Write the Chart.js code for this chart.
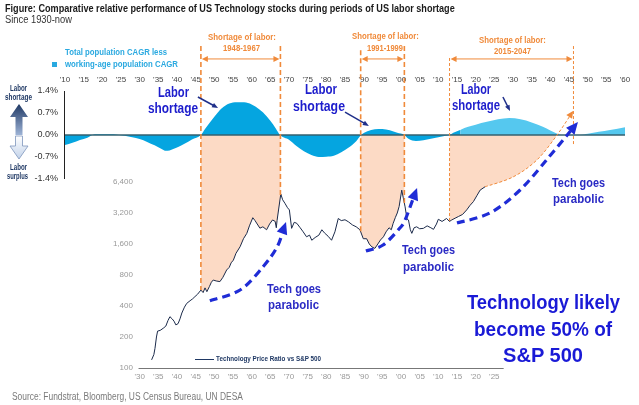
<!DOCTYPE html>
<html>
<head>
<meta charset="utf-8">
<script src="https://cdn.jsdelivr.net/npm/chart.js@4.4.1/dist/chart.umd.min.js"></script>
<style>
html,body{margin:0;padding:0;background:#fff;overflow:hidden;}
#wrap{position:relative;width:639px;height:405px;font-family:"Liberation Sans",Arial,Helvetica,sans-serif;}
#c{position:absolute;left:0;top:0;width:639px;height:405px;}
.t{position:absolute;white-space:nowrap;transform-origin:0 50%;line-height:1;}
</style>
</head>
<body>
<div id="wrap">
<canvas id="c" width="639" height="405"></canvas>
<svg style="position:absolute;left:8px;top:104px" width="22" height="56" viewBox="0 0 22 56">
  <defs>
    <linearGradient id="gu" x1="0" y1="0" x2="0" y2="1"><stop offset="0" stop-color="#1f3864"/><stop offset="1" stop-color="#9db3d6"/></linearGradient>
    <linearGradient id="gd" x1="0" y1="0" x2="0" y2="1"><stop offset="0" stop-color="#ffffff"/><stop offset="1" stop-color="#c3d3ea"/></linearGradient>
  </defs>
  <polygon points="11,0 20,13 14.5,13 14.5,31 7.5,31 7.5,13 2,13" fill="url(#gu)"/>
  <polygon points="7.5,32 14.5,32 14.5,42 20,42 11,55 2,42 7.5,42" fill="url(#gd)" stroke="#7d95bd" stroke-width="0.8"/>
</svg>
<div style="position:absolute;left:52px;top:62px;width:5px;height:5px;background:#29a9e0"></div>
<div style="position:absolute;left:195px;top:359px;width:19px;height:1px;background:#1f3864"></div>
</div>
<script>
// ---------------- DATA ----------------
// Total population CAGR less working-age population CAGR (%), historical
const popYears  = [1910,1912,1914,1916,1918,1920,1922,1924,1926,1928,1930,1932,1934,1936,1937,1938,1940,1942,1944,1946.4,1947.5,1950,1952,1954,1956,1958,1960,1962,1963,1965,1966.5,1967.6,1970,1972,1974,1976,1978,1980,1982,1984,1986,1988,1989.3,1991,1993,1995,1997,1999,2000.9,2002,2004,2006,2008,2010,2012,2013,2014,2016];
const popValues = [-0.32,-0.25,-0.16,-0.09,0.02,0.02,0.02,0.01,-0.02,-0.07,-0.13,-0.22,-0.33,-0.45,-0.5,-0.49,-0.4,-0.28,-0.14,0,0.19,0.58,0.85,1.0,1.04,1.04,0.97,0.82,0.72,0.45,0.2,0,-0.15,-0.35,-0.52,-0.64,-0.7,-0.69,-0.66,-0.55,-0.4,-0.2,0,0.12,0.18,0.19,0.15,0.07,0,-0.12,-0.19,-0.17,-0.12,-0.07,-0.02,0,0.07,0.17];
// projection
const projYears  = [2016,2018,2020,2023,2026,2029,2032,2035,2038,2040,2042,2043,2046,2048,2050,2053,2056,2060];
const projValues = [0.17,0.26,0.33,0.42,0.5,0.54,0.5,0.4,0.26,0.14,0.03,0,0,0,0.04,0.1,0.16,0.25];
// Technology price ratio vs S&P 500
const techYears  = [1933.2,1933.8,1934.1,1934.5,1934.8,1935.5,1936.3,1937.0,1937.6,1938.1,1938.7,1939.2,1939.7,1940.3,1940.8,1941.3,1942.0,1942.6,1943.5,1944.2,1944.8,1945.5,1946.4,1947.0,1947.5,1948.0,1948.7,1949.2,1949.7,1950.5,1951.5,1952.3,1953.3,1954.0,1954.5,1955.1,1955.8,1956.9,1957.8,1958.7,1959.4,1960.3,1960.9,1962.2,1963.0,1964.0,1964.8,1965.6,1966.3,1966.6,1966.8,1967.8,1968.3,1968.9,1969.6,1970.1,1970.7,1971.4,1972.1,1973.0,1973.8,1974.7,1975.5,1976.1,1977.0,1978.0,1978.8,1979.5,1980.5,1981.4,1982.3,1983.2,1984.0,1985.0,1985.9,1987.0,1988.0,1989.0,1989.9,1990.8,1991.5,1992.2,1993.0,1993.8,1994.5,1995.3,1996.0,1996.8,1997.4,1997.9,1998.5,1999.0,1999.5,2000.2,2000.6,2001.1,2001.6,2002.0,2002.5,2002.9,2003.5,2004.2,2005.0,2006.0,2007.0,2008.0,2008.7,2009.5,2010.0,2011.0,2012.2,2013.0,2013.6,2014.5,2015.4,2016.5,2017.6,2018.5,2019.4,2020.3,2021.2,2022.5];
const techValues = [120,135,155,200,228,232,243,255,290,315,300,285,262,270,300,342,390,424,450,470,493,520,571,540,600,551,620,680,715,700,690,760,895,950,1050,1115,1300,1505,1800,2030,2400,2880,2700,2280,2350,2200,2500,2740,2650,2300,2700,4900,4300,3980,3600,3430,2270,2600,2540,2300,2100,1880,1950,1740,1850,1950,2200,2050,1900,1740,2100,2830,2700,2750,2630,2450,2350,2200,1800,1800,1600,1500,1450,1600,1750,1880,2100,2300,2200,2540,2900,3200,3700,5340,4500,3670,2800,2740,2200,2030,2300,2350,2250,2270,2400,2300,2220,2500,2780,2650,2830,2650,2740,2850,2960,3100,3430,3800,4130,4700,5340,5750];
// tick labels
const topTickYears    = [1910,1915,1920,1925,1930,1935,1940,1945,1950,1955,1960,1965,1970,1975,1980,1985,1990,1995,2000,2005,2010,2015,2020,2025,2030,2035,2040,2045,2050,2055,2060];
const bottomTickYears = [1930,1935,1940,1945,1950,1955,1960,1965,1970,1975,1980,1985,1990,1995,2000,2005,2010,2015,2020,2025];
const pctTicks = [-1.4,-0.7,0,0.7,1.4];
const logTicks = [100,200,400,800,1600,3200,6400];
// labor-shortage periods
const periodLabels = ['1948-1967','1991-1999','2015-2047'];
const periodStart  = [1946.4,1989.2,2013.0];
const periodEnd    = [1967.7,2000.9,2046.2];
// projected path (orange dotted)
const projPathYears  = [2022.5,2030,2036.4,2041.8,2046.1];
const projPathValues = [5750,7160,10470,18300,31300];
// "Tech goes parabolic" arrows (year, ratio)
const arrow1Years=[1948.8,1956.9,1963.0,1966.8,1969.2], arrow1Values=[450,572,957,1496,2616];
const arrow2Years=[1990.6,1995.2,1999.7,2001.1,2004.3], arrow2Values=[1368,1565,2288,2736,5596];
const arrow3Years=[2015.0,2023.8,2031.9,2039.4,2047.4], arrow3Values=[2559,3200,5352,10940,24480];
// "Labor shortage" pointer arrows (year, pct)
const pointerFromYears=[1945.6,1985.0,2027.3], pointerFromPct=[1.21,0.73,1.21];
const pointerToYears  =[1951.0,1991.4,2029.2], pointerToPct  =[0.86,0.29,0.76];

// ---------------- STYLE ----------------
const SHADE='#fcdac5', ORANGE='#f08a3a', BLUE='#1f2cd6', NAVY='#1f2f8a';

function techAt(yr){
  if (yr<=techYears[0]) return techValues[0];
  for (let i=1;i<techYears.length;i++){
    if (yr<=techYears[i]){
      const t=(yr-techYears[i-1])/(techYears[i]-techYears[i-1]);
      return Math.exp(Math.log(techValues[i-1])*(1-t)+Math.log(techValues[i])*t);
    }
  }
  return techValues[techValues.length-1];
}
function techPixels(chart,a,b){
  const {x,yl}=chart.scales;
  const pts=[[x.getPixelForValue(a),yl.getPixelForValue(techAt(a))]];
  techYears.forEach((yr,i)=>{ if(yr>a&&yr<b) pts.push([x.getPixelForValue(yr),yl.getPixelForValue(techValues[i])]); });
  pts.push([x.getPixelForValue(b),yl.getPixelForValue(techAt(b))]);
  return pts;
}
function smooth(ctx,pts,move){
  if(move) ctx.moveTo(pts[0][0],pts[0][1]); else ctx.lineTo(pts[0][0],pts[0][1]);
  let last=pts[0];
  for(let i=0;i<pts.length-1;i++){
    const p0=pts[i-1]||pts[i],p1=pts[i],p2=pts[i+1],p3=pts[i+2]||p2;
    const c1=[p1[0]+(p2[0]-p0[0])/6,p1[1]+(p2[1]-p0[1])/6];
    const c2=[p2[0]-(p3[0]-p1[0])/6,p2[1]-(p3[1]-p1[1])/6];
    ctx.bezierCurveTo(c1[0],c1[1],c2[0],c2[1],p2[0],p2[1]);
    last=c2;
  }
  return last;
}
function head(ctx,tip,from,len,wid,color){
  const a=Math.atan2(tip[1]-from[1],tip[0]-from[0]);
  const bx=tip[0]-len*Math.cos(a), by=tip[1]-len*Math.sin(a);
  ctx.save();ctx.setLineDash([]);ctx.fillStyle=color;ctx.beginPath();
  ctx.moveTo(tip[0],tip[1]);
  ctx.lineTo(bx+wid/2*Math.sin(a),by-wid/2*Math.cos(a));
  ctx.lineTo(bx-wid/2*Math.sin(a),by+wid/2*Math.cos(a));
  ctx.closePath();ctx.fill();ctx.restore();
}

const deco={
  id:'deco',
  beforeDatasetsDraw(chart){
    const {ctx,chartArea,scales:{x,yp,yl}}=chart;
    const y0=yp.getPixelForValue(0);
    ctx.save();ctx.fillStyle=SHADE;
    for(let i=0;i<2;i++){
      const pts=techPixels(chart,periodStart[i],periodEnd[i]);
      ctx.beginPath();ctx.moveTo(pts[0][0],y0);ctx.lineTo(pts[pts.length-1][0],y0);
      for(let k=pts.length-1;k>=0;k--) ctx.lineTo(pts[k][0],pts[k][1]);
      ctx.closePath();ctx.fill();
    }
    const tEnd=techYears[techYears.length-1];
    const tp=techPixels(chart,periodStart[2],tEnd);
    const pp=projPathYears.map((yr,i)=>[x.getPixelForValue(yr),yl.getPixelForValue(projPathValues[i])]);
    ctx.save();ctx.beginPath();ctx.rect(chartArea.left,y0,chartArea.width,chartArea.bottom-y0);ctx.clip();
    ctx.beginPath();ctx.moveTo(tp[0][0],y0-80);ctx.lineTo(pp[pp.length-1][0],y0-80);
    smooth(ctx,pp.slice().reverse(),false);
    for(let k=tp.length-1;k>=0;k--) ctx.lineTo(tp[k][0],tp[k][1]);
    ctx.closePath();ctx.fill();ctx.restore();
    ctx.restore();
  },
  afterDatasetsDraw(chart){
    const {ctx,scales:{x,yp,yl}}=chart;
    ctx.save();
    // pct axis line
    ctx.strokeStyle='#222';ctx.lineWidth=1;ctx.beginPath();
    ctx.moveTo(x.left-0.5,yp.getPixelForValue(1.4));ctx.lineTo(x.left-0.5,yp.getPixelForValue(-1.4));ctx.stroke();
    // bottom axis line
    ctx.strokeStyle='#777';ctx.beginPath();
    const yb=Math.round(yl.getPixelForValue(100))+0.5;
    ctx.moveTo(x.getPixelForValue(1929.7),yb);ctx.lineTo(x.getPixelForValue(2027.5),yb);ctx.stroke();
    // vertical dashed lines
    const tops=[2.83,2.83,2.7,2.83,2.45,2.83];
    const yrs=[periodStart[0],periodEnd[0],periodStart[1],periodEnd[1],periodStart[2],periodEnd[2]];
    yrs.forEach((yr,i)=>{
      const px=x.getPixelForValue(yr);
      let bottom = yr<=techYears[techYears.length-1] ? yl.getPixelForValue(techAt(yr)) : yp.getPixelForValue(0)+10;
      ctx.strokeStyle=ORANGE;ctx.lineWidth=i<4?1.6:1;ctx.setLineDash(i<4?[5,3]:[3,2]);
      ctx.beginPath();ctx.moveTo(px,yp.getPixelForValue(tops[i]));ctx.lineTo(px,bottom);ctx.stroke();
    });
    ctx.setLineDash([]);
    // horizontal double arrows
    for(let i=0;i<3;i++){
      const ya=yp.getPixelForValue(2.42);
      const a=x.getPixelForValue(periodStart[i])+1,b=x.getPixelForValue(periodEnd[i])-1;
      ctx.strokeStyle=ORANGE;ctx.lineWidth=1;ctx.beginPath();ctx.moveTo(a+3,ya);ctx.lineTo(b-3,ya);ctx.stroke();
      head(ctx,[a,ya],[a+10,ya],6,6,ORANGE);head(ctx,[b,ya],[b-10,ya],6,6,ORANGE);
    }
    // orange projection dotted path
    const pp=projPathYears.map((yr,i)=>[x.getPixelForValue(yr),yl.getPixelForValue(projPathValues[i])]);
    ctx.strokeStyle=ORANGE;ctx.lineWidth=1;ctx.setLineDash([3,2]);ctx.beginPath();
    let c=smooth(ctx,pp,true);ctx.stroke();ctx.setLineDash([]);
    head(ctx,pp[pp.length-1],c,7,7,ORANGE);
    // blue dashed arrows
    [[arrow1Years,arrow1Values],[arrow2Years,arrow2Values],[arrow3Years,arrow3Values]].forEach(([ys,vs])=>{
      const pts=ys.map((yr,i)=>[x.getPixelForValue(yr),yl.getPixelForValue(vs[i])]);
      const tip=pts[pts.length-1];
      ctx.strokeStyle=BLUE;ctx.lineWidth=3.2;ctx.setLineDash([8,5]);ctx.lineCap='butt';ctx.beginPath();
      smooth(ctx,pts.slice(0,-1).concat([[tip[0]-(tip[0]-pts[pts.length-2][0])*0.25,tip[1]-(tip[1]-pts[pts.length-2][1])*0.25]]),true);
      ctx.stroke();ctx.setLineDash([]);
      head(ctx,tip,pts[pts.length-2],12,11,BLUE);
    });
    // labor shortage pointers
    for(let i=0;i<3;i++){
      const f=[x.getPixelForValue(pointerFromYears[i]),yp.getPixelForValue(pointerFromPct[i])];
      const t=[x.getPixelForValue(pointerToYears[i]),yp.getPixelForValue(pointerToPct[i])];
      ctx.strokeStyle=NAVY;ctx.lineWidth=1.5;ctx.beginPath();ctx.moveTo(f[0],f[1]);ctx.lineTo(t[0]-(t[0]-f[0])*0.2,t[1]-(t[1]-f[1])*0.2);ctx.stroke();
      head(ctx,t,f,6,5,NAVY);
    }
    ctx.restore();
  }
};

const yy=v=>"'"+String(Math.round(v)%100).padStart(2,'0');
Chart.defaults.font.family='"Liberation Sans", Arial, sans-serif';

new Chart(document.getElementById('c'),{
  type:'line',
  data:{datasets:[
    {label:'zero',data:[{x:topTickYears[0],y:0},{x:topTickYears[topTickYears.length-1],y:0}],xAxisID:'x',yAxisID:'yp',borderColor:'#35606f',borderWidth:1.5,pointRadius:0,order:0},
    {label:'Technology Price Ratio vs S&P 500',data:techYears.map((yr,i)=>({x:yr,y:techValues[i]})),xAxisID:'x',yAxisID:'yl',borderColor:'#1b2a4a',borderWidth:1,pointRadius:0,tension:0,order:1},
    {label:'Total population CAGR less working-age population CAGR',data:popYears.map((yr,i)=>({x:yr,y:popValues[i]})),xAxisID:'x',yAxisID:'yp',borderWidth:0,borderColor:'rgba(0,0,0,0)',backgroundColor:'#05a5e0',fill:'origin',pointRadius:0,cubicInterpolationMode:'monotone',order:3},
    {label:'projection',data:projYears.map((yr,i)=>({x:yr,y:projValues[i]})),xAxisID:'x',yAxisID:'yp',borderWidth:0,borderColor:'rgba(0,0,0,0)',backgroundColor:'#55c8ef',fill:'origin',pointRadius:0,cubicInterpolationMode:'monotone',order:2}
  ]},
  options:{
    responsive:false,animation:false,events:[],
    layout:{padding:{left:0,right:14,top:0,bottom:37}},
    plugins:{legend:{display:false},tooltip:{enabled:false}},
    scales:{
      x:{type:'linear',axis:'x',position:'top',min:1910,max:2060,
         afterBuildTicks:s=>{s.ticks=topTickYears.map(v=>({value:v}));},
         afterFit:s=>{s.height=91;},
         ticks:{callback:yy,autoSkip:false,maxRotation:0,font:{size:8},color:'#444',padding:6},
         grid:{display:false,drawTicks:false},border:{display:false}},
      xb:{type:'linear',axis:'x',position:{yl:100},min:1910,max:2060,
         afterBuildTicks:s=>{s.ticks=bottomTickYears.map(v=>({value:v}));},
         ticks:{callback:yy,autoSkip:false,maxRotation:0,font:{size:8},color:'#999',padding:4},
         grid:{display:false,drawTicks:false},border:{display:false}},
      yp:{type:'linear',axis:'y',position:'left',min:-7.4136,max:1.4,
         afterBuildTicks:s=>{s.ticks=pctTicks.map(v=>({value:v}));},
         afterFit:s=>{s.width=65;},
         ticks:{callback:v=>v.toFixed(1)+'%',font:{size:9},color:'#333',padding:7},
         grid:{display:false,drawTicks:false},border:{display:false}},
      yl:{type:'logarithmic',axis:'y',position:{x:1928.2},min:100,max:48960,
         afterBuildTicks:s=>{s.ticks=logTicks.map(v=>({value:v}));},
         ticks:{callback:v=>Number(v).toLocaleString('en-US'),font:{size:8},color:'#999',padding:4},
         grid:{display:false,drawTicks:false},border:{display:false}}
    }
  },
  plugins:[deco]
});

// ---------------- TEXT ----------------
const OR=ORANGE, TB='#1d1dcc', LB='#2a2ac4';
const texts=[
  ['Figure: Comparative relative performance of US Technology stocks during periods of US labor shortage',5,8,450,11,700,'#1a1a1a'],
  ['Since 1930-now',5,20,67,10,400,'#333'],
  ['Total population CAGR less',65,52,102,9.5,700,'#2aa9e0'],
  ['working-age population CAGR',65,64,113,9.5,700,'#2aa9e0'],
  ['Shortage of labor:',208,37,68,9,700,OR],['1948-1967',223,48,37,9,700,OR],
  ['Shortage of labor:',352,36,67,9,700,OR],['1991-1999',367,48,36,9,700,OR],
  ['Shortage of labor:',479,40,67,9,700,OR],['2015-2047',494,51,37,9,700,OR],
  ['Labor',10,88,17,9,700,'#1f3864'],['shortage',5,97,27,9,700,'#1f3864'],
  ['Labor',10,167,17,9,700,'#1f3864'],['surplus',7,176,21,9,700,'#1f3864'],
  ['Labor',158,92,31,14,700,TB],['shortage',148,108,50,14,700,TB],
  ['Labor',305,89,32,14,700,TB],['shortage',293,106,52,14,700,TB],
  ['Labor',461,89,30,14,700,TB],['shortage',452,105,48,14,700,TB],
  ['Tech goes',267,289,54,12.5,700,LB],['parabolic',268,305,51,12.5,700,LB],
  ['Tech goes',402,250,53,12.5,700,LB],['parabolic',403,267,51,12.5,700,LB],
  ['Tech goes',552,183,53,12.5,700,LB],['parabolic',553,199,51,12.5,700,LB],
  ['Technology likely',467,301,153,21,700,'#1a1ad6'],
  ['become 50% of',474,328,138,21,700,'#1a1ad6'],
  ['S&P 500',503,354,80,21,700,'#1a1ad6'],
  ['Technology Price Ratio vs S&P 500',216,359,105,7.5,700,'#1f3864'],
  ['Source: Fundstrat, Bloomberg, US Census Bureau, UN DESA',12,397,231,10,400,'#7a7a7a']
];
const wrap=document.getElementById('wrap');
texts.forEach(([s,l,cy,w,fs,fw,col])=>{
  const d=document.createElement('div');d.className='t';d.textContent=s;
  d.style.left=l+'px';d.style.top=(cy-fs/2)+'px';d.style.fontSize=fs+'px';d.style.fontWeight=fw;d.style.color=col;d.style.height=fs+'px';
  wrap.appendChild(d);
  const nw=d.getBoundingClientRect().width;
  if(nw>0) d.style.transform='scaleX('+(w/nw).toFixed(3)+')';
});
</script>
</body>
</html>
